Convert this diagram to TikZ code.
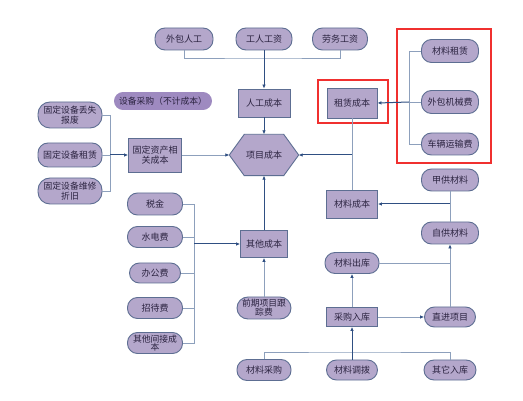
\documentclass[tikz,border=0pt]{standalone}
\usepackage{fontspec}
\setmainfont{Noto Sans CJK SC}
\usetikzlibrary{arrows.meta,calc}
\definecolor{nfill}{HTML}{B4A7CB}
\definecolor{ndraw}{HTML}{5D6E92}
\definecolor{dfill}{HTML}{9E8AC0}
\definecolor{ntext}{HTML}{2B2340}
\definecolor{lline}{HTML}{8DA0BC}
\definecolor{dline}{HTML}{2F4F82}
\definecolor{redbox}{HTML}{F0302F}
\begin{document}
\begin{tikzpicture}[x=1pt,y=-1pt,
  base/.style={fill=nfill,draw=ndraw,line width=0.9pt,text=ntext,inner sep=1pt,align=center,
    font=\fontsize{9}{10}\selectfont},
  pill/.style={base,rounded corners=10pt},
  pilltwo/.style={base,rounded corners=12pt,font=\fontsize{8.8}{9.5}\selectfont},
  boxn/.style={base},
  lt/.style={draw=lline,line width=0.9pt},
  arr/.style={draw=dline,line width=1pt,-{Latex[length=4pt,width=3.6pt]}},
  larr/.style={draw=lline,line width=0.9pt,-{Latex[length=4pt,width=3.6pt,color=dline]}},
  redr/.style={draw=redbox,line width=1.4pt}
]
\useasboundingbox[fill=white] (0,0) rectangle (523,401);

% top row
\node[pill,minimum width=58pt,minimum height=22pt] (wbrg) at (184,39) {外包人工};
\node[pill,minimum width=56pt,minimum height=22pt] (grgz) at (264,39) {工人工资};
\node[pill,minimum width=55pt,minimum height=22pt] (lwgz) at (340,39) {劳务工资};

\node[boxn,minimum width=52pt,minimum height=28pt] (rgcb) at (264,103) {人工成本};
\node[boxn,minimum width=50pt,minimum height=30pt] (zlcb) at (352,103) {租赁成本};
\node[base,fill=dfill,draw=dfill,rounded corners=8.5pt,minimum width=97pt,minimum height=17pt,font=\fontsize{8.8}{10}\selectfont] (sbcg) at (163,101) {设备采购（不计成本）};

% hexagon
\node[minimum width=69pt,minimum height=41pt,inner sep=0pt] (xmcb) at (264,155) {};
\draw[fill=nfill,draw=ndraw,line width=0.9pt] (xmcb.west) -- ($(xmcb.north west)+(15,0)$) -- ($(xmcb.north east)+(-15,0)$)
  -- (xmcb.east) -- ($(xmcb.south east)+(-15,0)$) -- ($(xmcb.south west)+(15,0)$) -- cycle;
\node[text=ntext,font=\fontsize{9}{10}\selectfont] (xmcbt) at (xmcb.center) {项目成本};

% left fixed assets
\node[boxn,minimum width=53pt,minimum height=34pt,font=\fontsize{9}{10.5}\selectfont] (gdzc) at (155,155) {固定资产相\\关成本};
\node[pilltwo,minimum width=64pt,minimum height=26pt] (gd1) at (70,115) {固定设备丢失\\报废};
\node[pill,minimum width=64pt,minimum height=24pt] (gd2) at (70,155) {固定设备租赁};
\node[pilltwo,minimum width=64pt,minimum height=26pt] (gd3) at (70,191) {固定设备维修\\折旧};

% right red group
\node[pill,minimum width=57pt,minimum height=23pt] (clzl) at (450,51) {材料租赁};
\node[pill,minimum width=57pt,minimum height=23pt] (wbjx) at (450,102) {外包机械费};
\node[pill,minimum width=57pt,minimum height=22pt] (clys) at (450,144) {车辆运输费};
\draw[redr] (318,80) rectangle (388,123);
\draw[redr] (397,29) rectangle (491,163);

\node[pill,minimum width=57pt,minimum height=22pt] (jgcl) at (450,180) {甲供材料};
\node[boxn,minimum width=51pt,minimum height=28pt] (clcb) at (352,204) {材料成本};
\node[pill,minimum width=57pt,minimum height=22pt] (zgcl) at (450,233) {自供材料};

% left other costs
\node[pill,minimum width=55pt,minimum height=22pt] (sj) at (155,204) {税金};
\node[pill,minimum width=55pt,minimum height=21pt] (sdf) at (155,237) {水电费};
\node[pill,minimum width=51pt,minimum height=20pt] (bgf) at (155,273) {办公费};
\node[pill,minimum width=55pt,minimum height=21pt] (zdf) at (155,308) {招待费};
\node[pilltwo,minimum width=55pt,minimum height=21pt,rounded corners=10pt,font=\fontsize{8.8}{8.6}\selectfont] (qtjj) at (155,343) {其他间接成\\本};

\node[boxn,minimum width=47pt,minimum height=27pt] (qtcb) at (264,244) {其他成本};
\node[pilltwo,minimum width=54pt,minimum height=22pt,rounded corners=11pt,font=\fontsize{8.8}{9}\selectfont] (qqxm) at (264,308) {前期项目跟\\踪费};

% bottom
\node[pill,minimum width=54pt,minimum height=21pt] (clck) at (352,263) {材料出库};
\node[boxn,minimum width=51pt,minimum height=19pt] (cgrk) at (352,317) {采购入库};
\node[pill,minimum width=51pt,minimum height=20pt] (zjxm) at (450,317) {直进项目};
\node[pill,minimum width=54pt,minimum height=21pt] (clcg) at (264,370) {材料采购};
\node[pill,minimum width=51pt,minimum height=20pt] (cldb) at (352,370) {材料调拨};
\node[pill,minimum width=52pt,minimum height=20pt] (qtrk) at (450,370) {其它入库};

% connectors: top
\coordinate (tb) at (264,58);
\draw[lt] (wbrg.south) |- (tb) -| (lwgz.south);
\draw[arr] (grgz) -- (rgcb);
\draw[arr] (rgcb) -- (xmcb.north);

% left fixed assets bus
\coordinate (lb) at (110,155);
\draw[lt] (gd1.east) -| (lb);
\draw[lt] (gd3.east) -| (lb);
\draw[lt] (gd2.east) -- (lb);
\draw[arr] (lb) -- (gdzc.west);
\draw[larr] (gdzc.east) -- (xmcb.west);

% right rental bus
\coordinate (rb) at (409,102);
\draw[lt] (clzl.west) -| (rb);
\draw[lt] (clys.west) -| (rb);
\draw[lt] (wbjx.west) -- (rb);
\draw[arr] (rb) -- (zlcb.east);

% rental / material to project
\coordinate (j1) at (zlcb.south |- xmcb.east);
\draw[lt] (zlcb.south) -- (clcb.north);
\draw[arr] (j1) -- (xmcb.east);

\coordinate (j2) at (jgcl.south |- clcb.east);
\draw[lt] (jgcl.south) -- (zgcl.north);
\draw[arr] (j2) -- (clcb.east);

% other costs bus
\coordinate (ob) at (194,244);
\draw[lt] (sj.east) -| (ob);
\draw[lt] (qtjj.east) -| (ob);
\draw[lt] (sdf.east) -- (sdf.east -| ob);
\draw[lt] (bgf.east) -- (bgf.east -| ob);
\draw[lt] (zdf.east) -- (zdf.east -| ob);
\draw[arr] (ob) -- (qtcb.west);
\draw[larr] (qqxm) -- (qtcb);
\draw[arr] (qtcb) -- (xmcb.south);

% bottom flows
\coordinate (bb) at (352,352);
\draw[lt] (clcg.north) |- (bb) -| (qtrk.north);
\draw[arr] (cldb) -- (cgrk);
\draw[larr] (cgrk) -- (clck);
\draw[larr] (cgrk) -- (zjxm);
\coordinate (j3) at (zjxm.north |- clck.east);
\draw[lt] (clck.east) -- (j3);
\draw[larr] (zjxm) -- (zgcl);
\end{tikzpicture}
\end{document}
